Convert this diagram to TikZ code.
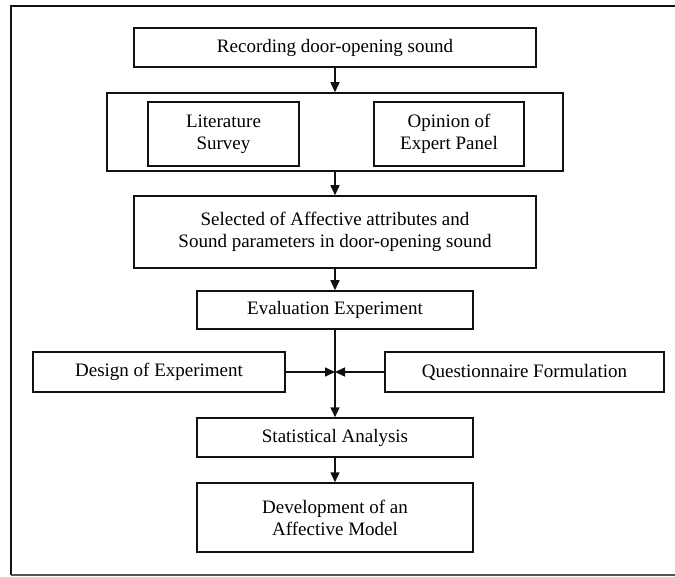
\documentclass[tikz,border=0pt]{standalone}
\usepackage{fontspec}
\setmainfont{Liberation Serif}
\usetikzlibrary{positioning, calc, arrows.meta}
\definecolor{Dark}{HTML}{111111}
\definecolor{Frame}{HTML}{555555}
\tikzset{
    stepbox/.style={rectangle, draw=Dark, line width=1.5pt, align=center, inner sep=0pt,
        font=\fontsize{19}{22}\selectfont},
    arrow/.style={-{Triangle[length=10pt, width=9pt]}, line width=1.5pt, color=Dark},
}

\begin{document}
\begin{tikzpicture}[x=1pt, y=-1pt]
                \useasboundingbox (0,0) rectangle (675,577);
                % Cornice esterna
                \draw[line width=2pt, Dark] (675,6) -- (11,6) -- (11,575);
                \draw[line width=1.2pt, Frame] (11,575) -- (675,575);

                % Registrazione
                \node[stepbox, minimum width=402pt, minimum height=39pt] (rec) at (335,47.5) {Recording door-opening sound};

                % Blocco fonti
                \node[stepbox, minimum width=456pt, minimum height=78pt] (src) at (335,132) {};
                \node[stepbox, minimum width=151pt, minimum height=64pt] (lit) at (223.5,134) {Literature\\Survey};
                \node[stepbox, minimum width=150pt, minimum height=64pt] (opn) at (449,134) {Opinion of\\Expert Panel};

                % Selezione attributi
                \node[stepbox, minimum width=402pt, minimum height=72pt] (sel) at (335,232) {Selected of Affective attributes and\\Sound parameters in door-opening sound};

                % Esperimento
                \node[stepbox, minimum width=276pt, minimum height=38pt] (eval) at (335,310) {Evaluation Experiment};
                \node[stepbox, minimum width=252pt, minimum height=40pt] (doe) at (159,372) {Design of Experiment};
                \node[stepbox, minimum width=279pt, minimum height=40pt] (quest) at (524.5,372) {Questionnaire Formulation};
                \coordinate (jn) at (335,372);

                % Analisi e modello
                \node[stepbox, minimum width=276pt, minimum height=39pt] (stat) at (335,437.5) {Statistical Analysis};
                \node[stepbox, minimum width=276pt, minimum height=69pt] (model) at (335,517.5) {Development of an\\Affective Model};

                % Frecce
                \draw[arrow] (rec) -- (src);
                \draw[arrow] (src) -- (sel);
                \draw[arrow] (sel) -- (eval);
                \draw[arrow] (eval) -- (stat);
                \draw[arrow] (doe) -- (jn);
                \draw[arrow] (quest) -- (jn);
                \draw[arrow] (stat) -- (model);
            \end{tikzpicture}
\end{document}
